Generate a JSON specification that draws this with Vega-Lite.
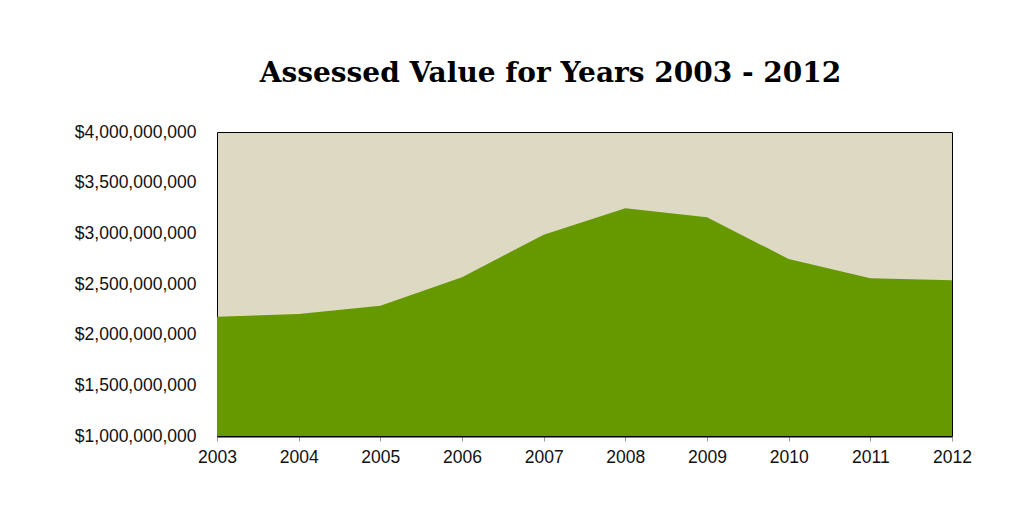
{
  "$schema": "https://vega.github.io/schema/vega-lite/v6.json",
  "width": 735,
  "height": 304,
  "autosize": "none",
  "padding": {"left": 217, "top": 132, "right": 63, "bottom": 81},
  "background": "white",
  "title": {
    "text": "Assessed Value for Years 2003 - 2012",
    "font": "DejaVu Serif",
    "fontSize": 28,
    "fontWeight": "bold",
    "color": "#000000",
    "anchor": "middle",
    "baseline": "alphabetic",
    "offset": 13,
    "dx": -34
  },
  "data": {
    "values": [
      {"year": "2003", "value": 2177000000},
      {"year": "2004", "value": 2204000000},
      {"year": "2005", "value": 2286000000},
      {"year": "2006", "value": 2566000000},
      {"year": "2007", "value": 2987000000},
      {"year": "2008", "value": 3247000000},
      {"year": "2009", "value": 3158000000},
      {"year": "2010", "value": 2747000000},
      {"year": "2011", "value": 2556000000},
      {"year": "2012", "value": 2536000000}
    ]
  },
  "mark": {"type": "area", "color": "#669900", "clip": true},
  "encoding": {
    "x": {
      "field": "year",
      "type": "ordinal",
      "scale": {"type": "point", "padding": 0},
      "axis": {
        "title": null,
        "labelAngle": 0,
        "labelFont": "Liberation Sans",
        "labelFontSize": 17.5,
        "labelColor": "#111111",
        "labelPadding": 7,
        "ticks": true,
        "tickSize": 5,
        "tickColor": "#999999",
        "domain": true,
        "domainColor": "#000000",
        "domainWidth": 2,
        "grid": false
      }
    },
    "y": {
      "field": "value",
      "type": "quantitative",
      "scale": {"domain": [1000000000, 4000000000], "zero": false, "nice": false},
      "axis": {
        "title": null,
        "values": [1000000000, 1500000000, 2000000000, 2500000000, 3000000000, 3500000000, 4000000000],
        "format": "$,.0f",
        "labelFont": "Liberation Sans",
        "labelFontSize": 17.5,
        "labelColor": "#111111",
        "labelPadding": 21,
        "ticks": false,
        "domain": false,
        "grid": false
      }
    },
    "y2": {"datum": 1000000000}
  },
  "config": {
    "view": {"fill": "#DDD9C3", "stroke": "#000000", "strokeWidth": 1}
  }
}
